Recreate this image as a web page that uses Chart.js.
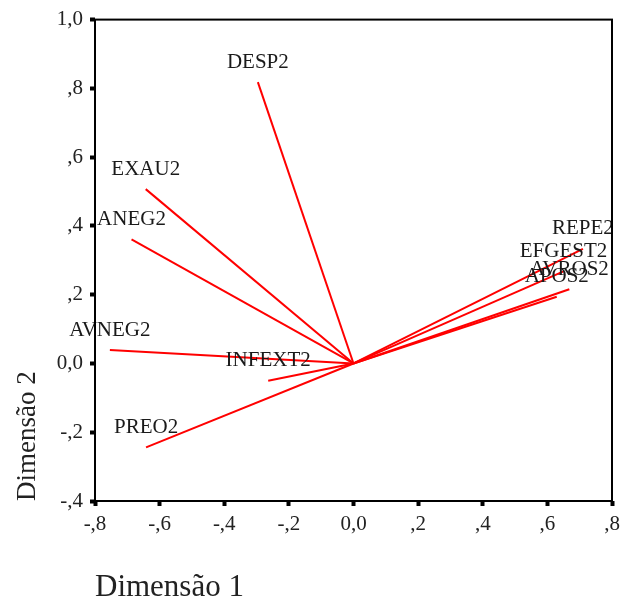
<!DOCTYPE html>
<html>
<head>
<meta charset="utf-8">
<script src="https://cdn.jsdelivr.net/npm/chart.js@4"></script>
<style>
  html, body { margin: 0; padding: 0; background: #fff; }
  #plot { display: block; }
</style>
</head>
<body>
<canvas id="plot" width="621" height="603"></canvas>
<script>
// component loadings (dimension 1, dimension 2) for each variable
const variables = ['DESP2', 'EXAU2', 'ANEG2', 'AVNEG2', 'INFEXT2', 'PREO2', 'REPE2', 'EFGEST2', 'AVROS2', 'APOS2'];
const dim1 = [-0.296, -0.643, -0.687, -0.754, -0.264, -0.642, 0.71, 0.65, 0.668, 0.629];
const dim2 = [0.818, 0.507, 0.361, 0.039, -0.05, -0.244, 0.333, 0.268, 0.216, 0.194];
const xTicks = [-0.8, -0.6, -0.4, -0.2, 0, 0.2, 0.4, 0.6, 0.8];
const yTicks = [-0.4, -0.2, 0, 0.2, 0.4, 0.6, 0.8, 1.0];

const serif = '"Liberation Serif", "DejaVu Serif", serif';

// 0 -> "0,0", 1 -> "1,0", 0.4 -> ",4", -0.2 -> "-,2"
function fmt(v) {
  const r = Math.round(v * 10) / 10;
  if (r === 0) return '0,0';
  const s = Math.abs(r).toFixed(1).replace('.', ',');
  const body = Math.abs(r) < 1 ? s.slice(1) : s;
  return (r < 0 ? '-' : '') + body;
}

const datasets = variables.map((name, i) => ({
  label: name,
  data: [{ x: 0, y: 0 }, { x: dim1[i], y: dim2[i] }],
  showLine: true,
  borderColor: '#ff0000',
  borderWidth: 2,
  pointRadius: 0,
  fill: false
}));

// frame around the plot area
const frame = {
  id: 'frame',
  afterDraw(chart) {
    const { ctx, chartArea: a } = chart;
    ctx.save();
    ctx.strokeStyle = '#000';
    ctx.lineWidth = 2;
    ctx.strokeRect(a.left, a.top, a.right - a.left, a.bottom - a.top);
    ctx.restore();
  }
};

// variable names above the end of each vector
const endLabels = {
  id: 'endLabels',
  afterDatasetsDraw(chart) {
    const { ctx, scales } = chart;
    ctx.save();
    ctx.font = '21px ' + serif;
    ctx.fillStyle = '#1a1a1a';
    ctx.textAlign = 'center';
    ctx.textBaseline = 'middle';
    variables.forEach((name, i) => {
      const px = scales.x.getPixelForValue(dim1[i]);
      const py = scales.y.getPixelForValue(dim2[i]);
      ctx.fillText(name, px, py - 20);
    });
    ctx.restore();
  }
};

new Chart(document.getElementById('plot'), {
  type: 'scatter',
  data: { datasets },
  plugins: [frame, endLabels],
  options: {
    responsive: false,
    animation: false,
    layout: { padding: { top: 19, right: 9, left: 0, bottom: 0 } },
    plugins: {
      legend: { display: false },
      tooltip: { enabled: false }
    },
    scales: {
      x: {
        type: 'linear',
        min: -0.8,
        max: 0.8,
        afterBuildTicks(scale) { scale.ticks = xTicks.map(v => ({ value: v })); },
        afterFit(scale) {
          scale.height = 102;
          scale.paddingRight = 0;
          scale.paddingLeft = 0;
        },
        grid: { drawOnChartArea: false, drawTicks: true, tickLength: 5, tickWidth: 4, color: '#000' },
        border: { display: false },
        ticks: {
          color: '#222',
          font: { family: serif, size: 21 },
          padding: 6,
          maxRotation: 0,
          callback: v => fmt(v)
        },
        title: {
          display: true,
          text: 'Dimensão 1',
          align: 'start',
          color: '#222',
          font: { family: serif, size: 31, lineHeight: 1.0 },
          padding: { top: 0, bottom: 0 }
        }
      },
      y: {
        type: 'linear',
        min: -0.4,
        max: 1.0,
        afterBuildTicks(scale) { scale.ticks = yTicks.map(v => ({ value: v })); },
        afterFit(scale) { scale.width = 95; },
        grid: { drawOnChartArea: false, drawTicks: true, tickLength: 5, tickWidth: 4, color: '#000' },
        border: { display: false },
        ticks: {
          color: '#222',
          font: { family: serif, size: 21 },
          padding: 7,
          callback: v => fmt(v)
        },
        title: {
          display: true,
          text: 'Dimensão 2',
          align: 'start',
          color: '#222',
          font: { family: serif, size: 27, lineHeight: 1.0 },
          padding: { top: 14, bottom: 0 }
        }
      }
    }
  }
});
</script>
</body>
</html>
